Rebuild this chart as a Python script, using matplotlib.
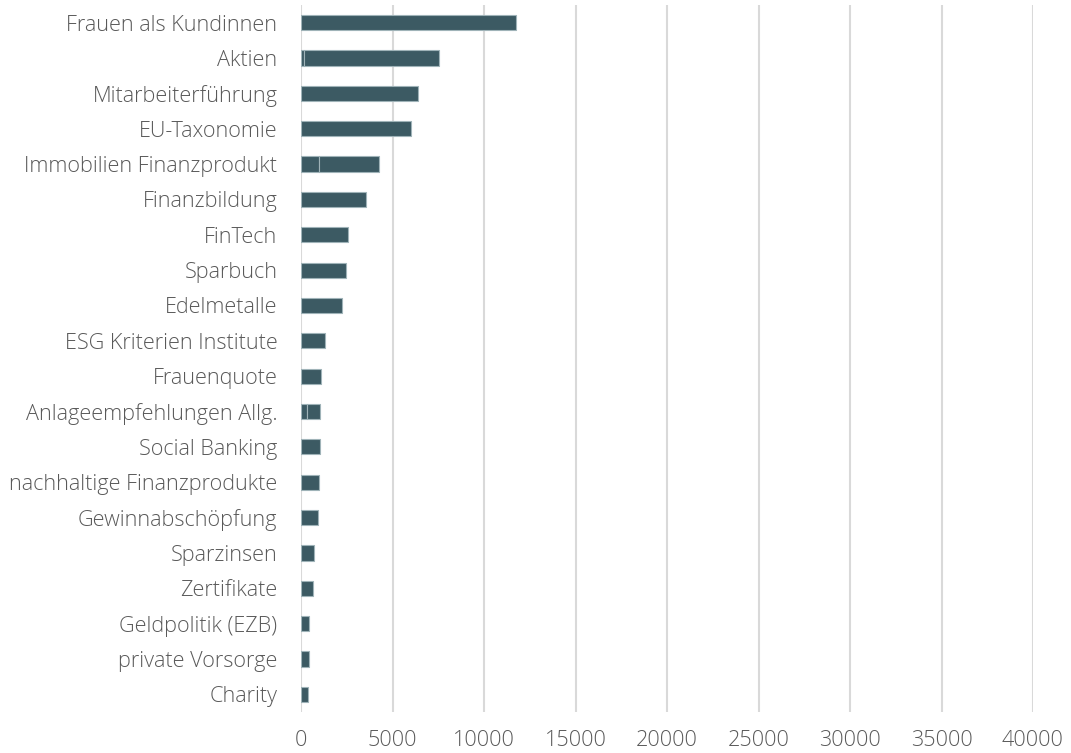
import matplotlib.pyplot as plt
import numpy as np

plt.rcParams['font.family'] = ['Open Sans', 'DejaVu Sans']

themen = ["Frauen als Kundinnen", "Aktien", "Mitarbeiterführung", "EU-Taxonomie",
          "Immobilien Finanzprodukt", "Finanzbildung", "FinTech", "Sparbuch",
          "Edelmetalle", "ESG Kriterien Institute", "Frauenquote",
          "Anlageempfehlungen Allg.", "Social Banking", "nachhaltige Finanzprodukte",
          "Gewinnabschöpfung", "Sparzinsen", "Zertifikate", "Geldpolitik (EZB)",
          "private Vorsorge", "Charity"]
# two stacked parts per topic
teil_a = [0, 180, 0, 0, 1000, 0, 0, 0, 0, 0, 0, 320, 0, 0, 0, 0, 0, 0, 0, 0]
gesamt = [11750, 7520, 6410, 6030, 4280, 3540, 2590, 2480, 2260, 1310,
          1090, 1060, 1040, 960, 920, 720, 630, 450, 410, 370]
teil_b = [g - a for g, a in zip(gesamt, teil_a)]
x_ticks = [0, 5000, 10000, 15000, 20000, 25000, 30000, 35000, 40000]

fig = plt.figure(figsize=(10.71, 7.53), dpi=100)
ax = fig.add_axes([301 / 1071, 1 - 712 / 753, 732 / 1071, 707 / 753])

y = np.arange(len(themen))
farbe = '#3c5a63'
kante = '#9fb3b8'
ax.barh(y, teil_a, height=0.43, color=farbe, edgecolor=kante, linewidth=0.8, zorder=3)
ax.barh(y, teil_b, left=teil_a, height=0.43, color=farbe, edgecolor=kante,
        linewidth=0.8, zorder=3)

ax.set_xlim(0, 40000)
ax.set_ylim(len(themen) - 0.5, -0.5)
ax.set_xticks(x_ticks)
ax.set_xticklabels([str(t) for t in x_ticks])
ax.set_yticks(y)
ax.set_yticklabels(themen)

ax.grid(axis='x', color='#d9d9d9', linewidth=1.5, zorder=0)
for s in ax.spines.values():
    s.set_visible(False)
ax.tick_params(axis='both', length=0, labelsize=15.6, labelcolor='#595959')
ax.tick_params(axis='x', pad=13)
ax.tick_params(axis='y', pad=17)
for lbl in ax.get_xticklabels() + ax.get_yticklabels():
    lbl.set_fontweight('light')

fig.savefig('out.png', dpi=100)
